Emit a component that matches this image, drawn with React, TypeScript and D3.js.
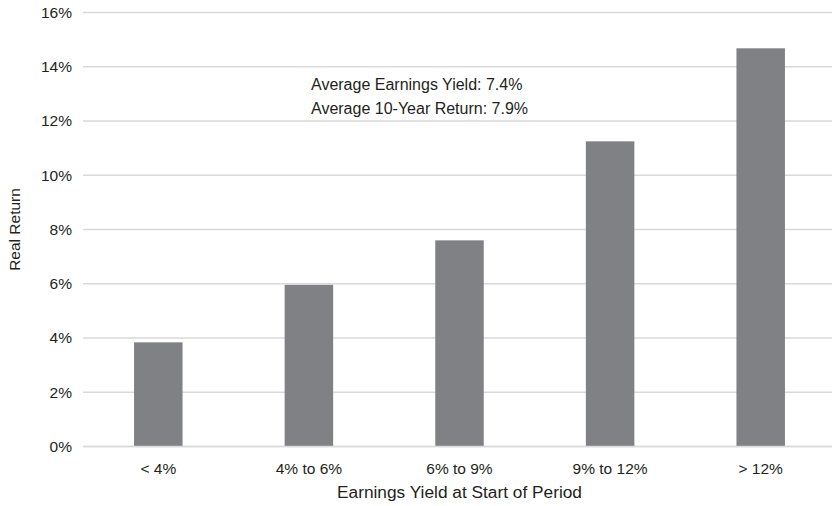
import React from "react";
import * as d3 from "d3";

const categories = ["< 4%", "4% to 6%", "6% to 9%", "9% to 12%", "> 12%"];
const realReturns = [3.84, 5.96, 7.6, 11.25, 14.68];
const yTicks = [0, 2, 4, 6, 8, 10, 12, 14, 16];
const annotationLines = ["Average Earnings Yield: 7.4%", "Average 10-Year Return: 7.9%"];

const W = 832;
const H = 506;
const FONT = "'Liberation Sans', Arial, Helvetica, sans-serif";
const TEXT = "#231f20";

export default function App() {
  const left = 83;
  const right = 836;
  const top = 12.5;
  const bottom = 446.5;
  const x = d3.scaleBand<string>().domain(categories).range([left, right]).paddingInner(0.678).paddingOuter(0.339);
  const y = d3.scaleLinear().domain([0, 16]).range([bottom, top]);
  return (
    <svg width={W} height={H} style={{ position: "absolute", left: 0, top: 0, background: "#fff" }}>
      <g fontFamily={FONT} fill={TEXT}>
        {yTicks.map((t) => (
          <g key={t}>
            <line x1={left} x2={W} y1={y(t)} y2={y(t)} stroke="#d9d9d9" strokeWidth={1.4} />
            <text x={72} y={y(t)} dy="0.35em" textAnchor="end" fontSize={15.5}>
              {t}%
            </text>
          </g>
        ))}
        {categories.map((c, i) => (
          <rect key={c} x={x(c)} width={x.bandwidth()} y={y(realReturns[i])} height={y(0) - y(realReturns[i])} fill="#808184" />
        ))}
        <line x1={left} x2={W} y1={y(0)} y2={y(0)} stroke="#d9d9d9" strokeWidth={1.4} />
        {categories.map((c) => (
          <text key={c} x={(x(c) as number) + x.bandwidth() / 2} y={473.5} textAnchor="middle" fontSize={15.5}>
            {c}
          </text>
        ))}
        <text x={459.5} y={497.7} textAnchor="middle" fontSize={17.3}>
          Earnings Yield at Start of Period
        </text>
        <text transform={`translate(19.5, ${(top + bottom) / 2}) rotate(-90)`} textAnchor="middle" fontSize={15.5}>
          Real Return
        </text>
        {annotationLines.map((l, i) => (
          <text key={l} x={311} y={89.5 + i * 24} fontSize={16}>
            {l}
          </text>
        ))}
      </g>
    </svg>
  );
}
